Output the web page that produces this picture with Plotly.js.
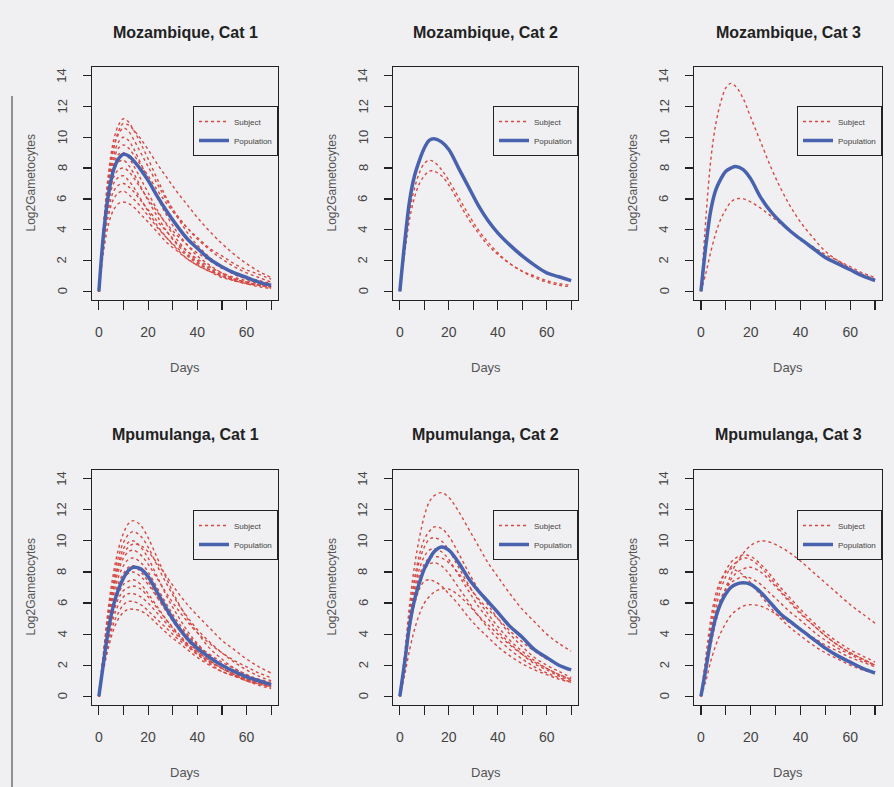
<!DOCTYPE html>
<html>
<head>
<meta charset="utf-8">
<script src="https://cdn.plot.ly/plotly-3.0.1.min.js"></script>
<style>
  html, body { margin: 0; padding: 0; background: #f0f0f2; }
  #chart { width: 894px; height: 787px; }
</style>
</head>
<body>
<div id="chart"></div>
<script>
// Sampling days shared by every curve
const days = [0, 2, 4, 6, 8, 10, 12, 14, 17, 20, 24, 28, 32, 36, 40, 45, 50, 55, 60, 65, 70];

// Panel titles
const panelTitles = [
  'Mozambique, Cat 1', 'Mozambique, Cat 2', 'Mozambique, Cat 3',
  'Mpumulanga, Cat 1', 'Mpumulanga, Cat 2', 'Mpumulanga, Cat 3'
];

// Axis labels and ticks
const xTickVals = [0, 10, 20, 30, 40, 50, 60, 70];
const xTickText = ['0', '', '20', '', '40', '', '60', ''];
const yTickVals = [0, 2, 4, 6, 8, 10, 12, 14];
const yTickText = ['0', '2', '4', '6', '8', '10', '12', '14'];
const xLabel = 'Days';
const yLabel = 'Log2Gametocytes';
const legendNames = ['Subject', 'Population'];

// Population predictions (log2 gametocytes)
const mozCat1Pop = [0, 3.9, 6.4, 7.9, 8.6, 8.9, 8.8, 8.5, 7.9, 7.2, 6.1, 5.1, 4.2, 3.4, 2.8, 2.1, 1.6, 1.2, 0.9, 0.6, 0.4];
const mozCat2Pop = [0, 3.2, 5.9, 7.5, 8.5, 9.3, 9.8, 9.9, 9.7, 9.2, 8.0, 6.8, 5.6, 4.6, 3.8, 3.0, 2.3, 1.7, 1.2, 0.95, 0.7];
const mozCat3Pop = [0, 3.0, 5.3, 6.6, 7.3, 7.8, 8.0, 8.1, 7.9, 7.3, 6.1, 5.2, 4.5, 3.9, 3.4, 2.8, 2.2, 1.8, 1.4, 1.0, 0.7];
const mpuCat1Pop = [0, 2.3, 4.4, 5.9, 6.9, 7.6, 8.1, 8.3, 8.2, 7.7, 6.6, 5.5, 4.5, 3.7, 3.1, 2.5, 2.0, 1.6, 1.25, 1.0, 0.75];
const mpuCat2Pop = [0, 2.2, 4.6, 6.2, 7.3, 8.2, 8.8, 9.3, 9.6, 9.4, 8.6, 7.6, 6.8, 6.1, 5.4, 4.5, 3.8, 3.0, 2.5, 2.0, 1.7];
const mpuCat3Pop = [0, 1.8, 3.7, 5.1, 6.0, 6.6, 7.0, 7.2, 7.3, 7.2, 6.7, 6.0, 5.3, 4.8, 4.3, 3.7, 3.1, 2.6, 2.2, 1.8, 1.5];

// Individual subject predictions
const mozCat1Subjects = [
  [0, 4.5, 7.8, 9.8, 10.8, 11.2, 11.0, 10.5, 9.6, 8.6, 7.2, 5.9, 4.8, 3.8, 3.0, 2.2, 1.6, 1.1, 0.8, 0.5, 0.3],
  [0, 4.3, 7.4, 9.3, 10.2, 10.6, 10.4, 9.9, 9.0, 8.1, 6.9, 5.8, 4.9, 4.1, 3.4, 2.7, 2.1, 1.6, 1.2, 0.9, 0.6],
  [0, 4.1, 7.0, 8.8, 9.7, 10.0, 9.8, 9.3, 8.3, 7.3, 6.0, 4.8, 3.8, 3.0, 2.3, 1.7, 1.2, 0.8, 0.6, 0.4, 0.3],
  [0, 4.0, 6.8, 8.5, 9.3, 9.5, 9.3, 8.9, 8.2, 7.5, 6.5, 5.6, 4.8, 4.1, 3.5, 2.8, 2.3, 1.8, 1.4, 1.1, 0.8],
  [0, 3.9, 6.6, 8.2, 8.9, 9.0, 8.7, 8.2, 7.3, 6.4, 5.2, 4.2, 3.3, 2.6, 2.0, 1.5, 1.1, 0.8, 0.6, 0.4, 0.3],
  [0, 3.8, 6.3, 7.8, 8.4, 8.5, 8.2, 7.7, 6.8, 5.9, 4.8, 3.8, 3.0, 2.4, 1.9, 1.4, 1.0, 0.7, 0.5, 0.4, 0.2],
  [0, 3.7, 6.1, 7.4, 7.9, 8.0, 7.8, 7.4, 6.7, 6.0, 5.1, 4.3, 3.6, 3.0, 2.5, 2.0, 1.5, 1.2, 0.9, 0.7, 0.5],
  [0, 3.5, 5.8, 7.0, 7.4, 7.5, 7.2, 6.8, 6.0, 5.2, 4.2, 3.4, 2.7, 2.1, 1.7, 1.3, 0.9, 0.7, 0.5, 0.3, 0.2],
  [0, 3.3, 5.4, 6.5, 6.9, 7.0, 6.8, 6.5, 5.9, 5.3, 4.5, 3.8, 3.1, 2.6, 2.1, 1.6, 1.2, 0.9, 0.7, 0.5, 0.4],
  [0, 3.1, 5.0, 6.0, 6.4, 6.5, 6.3, 6.0, 5.5, 4.9, 4.1, 3.4, 2.8, 2.3, 1.8, 1.4, 1.0, 0.8, 0.6, 0.4, 0.3],
  [0, 2.7, 4.4, 5.3, 5.7, 5.8, 5.7, 5.5, 5.0, 4.5, 3.8, 3.1, 2.6, 2.1, 1.7, 1.3, 1.0, 0.7, 0.5, 0.4, 0.3],
  [0, 4.2, 7.3, 9.3, 10.4, 10.9, 10.8, 10.5, 9.9, 9.2, 8.2, 7.3, 6.4, 5.6, 4.8, 3.9, 3.1, 2.4, 1.8, 1.3, 0.9]
];
const mozCat2Subjects = [
  [0, 2.8, 5.2, 6.7, 7.7, 8.3, 8.5, 8.4, 7.9, 7.2, 6.1, 5.0, 4.0, 3.2, 2.5, 1.8, 1.3, 0.9, 0.6, 0.4, 0.3],
  [0, 2.5, 4.7, 6.1, 7.0, 7.5, 7.8, 7.8, 7.5, 6.9, 5.8, 4.7, 3.8, 3.0, 2.4, 1.8, 1.3, 1.0, 0.7, 0.5, 0.4]
];
const mozCat3Subjects = [
  [0, 4.8, 8.6, 10.9, 12.3, 13.2, 13.5, 13.3, 12.5, 11.3, 9.7, 8.1, 6.7, 5.5, 4.5, 3.5, 2.6, 2.0, 1.5, 1.1, 0.8],
  [0, 1.2, 2.6, 3.8, 4.7, 5.3, 5.8, 6.0, 6.0, 5.8, 5.4, 4.9, 4.4, 3.9, 3.4, 2.9, 2.4, 2.0, 1.6, 1.2, 0.9]
];
const mpuCat1Subjects = [
  [0, 3.0, 5.9, 8.0, 9.5, 10.5, 11.1, 11.3, 11.0, 10.2, 8.8, 7.4, 6.1, 5.0, 4.1, 3.1, 2.4, 1.8, 1.4, 1.0, 0.8],
  [0, 2.9, 5.6, 7.6, 9.0, 9.9, 10.4, 10.6, 10.3, 9.6, 8.3, 7.1, 6.0, 5.1, 4.3, 3.5, 2.8, 2.2, 1.7, 1.3, 1.0],
  [0, 2.8, 5.4, 7.3, 8.6, 9.5, 9.9, 10.0, 9.6, 8.9, 7.6, 6.3, 5.2, 4.2, 3.4, 2.6, 2.0, 1.5, 1.1, 0.8, 0.6],
  [0, 2.7, 5.1, 6.9, 8.1, 8.9, 9.3, 9.4, 9.1, 8.5, 7.5, 6.5, 5.6, 4.8, 4.1, 3.4, 2.8, 2.3, 1.9, 1.5, 1.2],
  [0, 2.6, 4.9, 6.6, 7.7, 8.4, 8.8, 8.9, 8.6, 8.0, 6.9, 5.8, 4.8, 4.0, 3.3, 2.6, 2.0, 1.6, 1.2, 0.9, 0.7],
  [0, 2.5, 4.6, 6.2, 7.3, 7.9, 8.3, 8.4, 8.0, 7.4, 6.3, 5.3, 4.4, 3.6, 2.9, 2.3, 1.8, 1.4, 1.0, 0.8, 0.6],
  [0, 2.4, 4.5, 6.0, 7.0, 7.6, 7.9, 8.0, 7.7, 7.2, 6.3, 5.4, 4.6, 3.9, 3.3, 2.7, 2.2, 1.8, 1.4, 1.1, 0.9],
  [0, 2.3, 4.3, 5.7, 6.6, 7.2, 7.4, 7.5, 7.2, 6.6, 5.7, 4.8, 4.0, 3.3, 2.7, 2.1, 1.6, 1.3, 1.0, 0.7, 0.5],
  [0, 2.2, 4.1, 5.4, 6.3, 6.8, 7.0, 7.1, 6.9, 6.4, 5.6, 4.8, 4.1, 3.4, 2.9, 2.3, 1.8, 1.4, 1.1, 0.9, 0.7],
  [0, 2.1, 3.8, 5.1, 5.9, 6.4, 6.6, 6.6, 6.4, 6.0, 5.3, 4.6, 3.9, 3.3, 2.8, 2.2, 1.8, 1.4, 1.1, 0.9, 0.7],
  [0, 1.9, 3.5, 4.7, 5.4, 5.9, 6.1, 6.1, 5.9, 5.5, 4.9, 4.3, 3.7, 3.2, 2.7, 2.2, 1.8, 1.4, 1.1, 0.9, 0.7],
  [0, 1.8, 3.2, 4.3, 5.0, 5.4, 5.6, 5.6, 5.5, 5.2, 4.6, 4.0, 3.5, 3.0, 2.5, 2.0, 1.6, 1.3, 1.0, 0.8, 0.6],
  [0, 2.8, 5.3, 7.1, 8.4, 9.2, 9.6, 9.8, 9.7, 9.3, 8.5, 7.6, 6.7, 5.9, 5.2, 4.4, 3.6, 3.0, 2.4, 1.9, 1.5]
];
const mpuCat2Subjects = [
  [0, 2.8, 5.9, 8.4, 10.2, 11.6, 12.5, 12.9, 13.1, 12.8, 11.9, 10.8, 9.7, 8.6, 7.7, 6.6, 5.6, 4.8, 4.0, 3.4, 2.9],
  [0, 2.6, 5.4, 7.6, 9.1, 10.1, 10.6, 10.9, 10.8, 10.3, 9.2, 8.0, 6.9, 5.9, 5.0, 4.0, 3.2, 2.5, 2.0, 1.6, 1.2],
  [0, 2.5, 5.2, 7.3, 8.7, 9.6, 10.1, 10.2, 10.0, 9.4, 8.3, 7.2, 6.2, 5.3, 4.5, 3.6, 2.9, 2.3, 1.8, 1.4, 1.1],
  [0, 2.4, 5.0, 6.9, 8.2, 9.0, 9.4, 9.5, 9.3, 8.8, 7.8, 6.8, 5.8, 5.0, 4.2, 3.4, 2.7, 2.1, 1.7, 1.3, 1.0],
  [0, 2.3, 4.8, 6.6, 7.8, 8.5, 8.9, 9.0, 8.9, 8.6, 7.9, 7.1, 6.3, 5.6, 5.0, 4.2, 3.5, 2.9, 2.4, 2.0, 1.6],
  [0, 2.2, 4.6, 6.3, 7.5, 8.2, 8.5, 8.6, 8.4, 7.9, 7.0, 6.1, 5.2, 4.4, 3.7, 3.0, 2.4, 1.9, 1.5, 1.2, 0.9],
  [0, 2.0, 4.3, 5.9, 6.9, 7.4, 7.5, 7.4, 7.1, 6.6, 5.9, 5.1, 4.4, 3.8, 3.2, 2.6, 2.1, 1.7, 1.4, 1.1, 0.9],
  [0, 1.4, 3.0, 4.3, 5.3, 6.0, 6.4, 6.7, 6.9, 6.9, 6.5, 5.9, 5.2, 4.6, 4.0, 3.3, 2.7, 2.2, 1.8, 1.4, 1.1]
];
const mpuCat3Subjects = [
  [0, 1.5, 3.3, 4.8, 6.0, 7.0, 7.8, 8.5, 9.2, 9.7, 10.0, 9.9, 9.6, 9.2, 8.7, 8.0, 7.3, 6.6, 5.9, 5.3, 4.7],
  [0, 2.2, 4.5, 6.2, 7.3, 8.1, 8.6, 8.9, 9.1, 9.0, 8.5, 7.8, 7.0, 6.3, 5.6, 4.8, 4.1, 3.5, 3.0, 2.6, 2.2],
  [0, 1.9, 4.0, 5.7, 6.9, 7.7, 8.3, 8.6, 8.9, 8.8, 8.3, 7.6, 6.8, 6.1, 5.4, 4.6, 3.9, 3.3, 2.8, 2.4, 2.0],
  [0, 2.6, 5.0, 6.6, 7.5, 8.0, 8.2, 8.1, 7.8, 7.3, 6.5, 5.7, 5.0, 4.4, 3.9, 3.3, 2.8, 2.4, 2.0, 1.7, 1.5],
  [0, 1.6, 3.5, 5.0, 6.1, 6.9, 7.5, 7.9, 8.2, 8.3, 8.0, 7.4, 6.7, 6.0, 5.3, 4.6, 3.9, 3.3, 2.8, 2.4, 2.0],
  [0, 1.8, 3.8, 5.3, 6.3, 6.9, 7.3, 7.5, 7.7, 7.6, 7.2, 6.6, 6.0, 5.4, 4.9, 4.2, 3.6, 3.1, 2.7, 2.3, 2.0],
  [0, 1.0, 2.3, 3.3, 4.1, 4.7, 5.2, 5.5, 5.8, 5.9, 5.8, 5.5, 5.1, 4.7, 4.3, 3.8, 3.3, 2.9, 2.5, 2.2, 1.9]
];

const panelPop = [mozCat1Pop, mozCat2Pop, mozCat3Pop, mpuCat1Pop, mpuCat2Pop, mpuCat3Pop];
const panelSubjects = [mozCat1Subjects, mozCat2Subjects, mozCat3Subjects, mpuCat1Subjects, mpuCat2Subjects, mpuCat3Subjects];

// ---- page geometry (pixels) ----
const W = 894, H = 787;
const colBox = [[92, 278], [393, 578], [694, 882]];
const rowBox = [[67, 300], [470, 705]];
const titleY = [33, 434];
const daysY = [367, 772];
const legendTop = [106, 510];

const px = x => x / W;
const py = y => 1 - y / H;

const BG = '#f0f0f2';
const RED = '#d64a44';
const BLUE = '#4862ad';
const FONT = 'Liberation Sans, Arial, Helvetica, sans-serif';

const traces = [];
const layout = {
  width: W, height: H,
  margin: {l: 0, r: 0, t: 0, b: 0},
  paper_bgcolor: BG,
  plot_bgcolor: BG,
  font: {family: FONT, color: '#333'},
  showlegend: true,
  annotations: [],
  shapes: [
    // page rule down the left edge
    {type: 'line', xref: 'paper', yref: 'paper', x0: px(12), x1: px(12), y0: py(96), y1: py(787),
     line: {color: '#333', width: 1}}
  ]
};

for (let p = 0; p < 6; p++) {
  const r = Math.floor(p / 3), c = p % 3;
  const n = p + 1;
  const xa = n === 1 ? 'x' : 'x' + n;
  const ya = n === 1 ? 'y' : 'y' + n;
  const lg = n === 1 ? 'legend' : 'legend' + n;
  const [x0, x1] = colBox[c];
  const [y0, y1] = rowBox[r];

  layout['xaxis' + (n === 1 ? '' : n)] = {
    domain: [px(x0), px(x1)],
    anchor: ya,
    range: [-2.8, 72.8],
    tickmode: 'array', tickvals: xTickVals, ticktext: xTickText,
    ticks: 'outside', ticklen: 9, tickwidth: 1.2, tickcolor: '#222',
    ticklabelstandoff: 10,
    tickfont: {size: 14, color: '#444', family: FONT},
    showline: true, mirror: true, linecolor: '#222', linewidth: 1.3,
    showgrid: false, zeroline: false
  };
  // y tick labels are drawn rotated, parallel to the axis, as annotations below
  layout['yaxis' + (n === 1 ? '' : n)] = {
    domain: [py(y1), py(y0)],
    anchor: xa,
    range: [-0.56, 14.56],
    tickmode: 'array', tickvals: yTickVals,
    showticklabels: false,
    ticks: 'outside', ticklen: 8, tickwidth: 1.2, tickcolor: '#222',
    showline: true, mirror: true, linecolor: '#222', linewidth: 1.3,
    showgrid: false, zeroline: false
  };
  layout[lg] = {
    x: px(x1), xanchor: 'right',
    y: py(legendTop[r]), yanchor: 'top',
    bgcolor: BG, bordercolor: '#222', borderwidth: 1,
    font: {size: 8, color: '#444', family: FONT},
    tracegroupgap: 0, itemwidth: 30
  };

  panelSubjects[p].forEach((vals, i) => {
    traces.push({
      x: days, y: vals, xaxis: xa, yaxis: ya, legend: lg,
      type: 'scatter', mode: 'lines',
      line: {color: RED, width: 1.4, dash: 'dot', shape: 'spline', smoothing: 1},
      name: legendNames[0], showlegend: i === 0, legendrank: 1,
      hoverinfo: 'skip'
    });
  });
  traces.push({
    x: days, y: panelPop[p], xaxis: xa, yaxis: ya, legend: lg,
    type: 'scatter', mode: 'lines',
    line: {color: BLUE, width: 3.5, shape: 'spline', smoothing: 1},
    name: legendNames[1], showlegend: true, legendrank: 2,
    hoverinfo: 'skip'
  });

  yTickVals.forEach((v, k) => {
    layout.annotations.push({
      text: yTickText[k], xref: 'paper', yref: ya, textangle: -90,
      x: px(x0 - 30), y: v, xanchor: 'center', yanchor: 'middle', showarrow: false,
      font: {size: 13, color: '#444', family: FONT}
    });
  });

  const cx = (x0 + x1) / 2;
  layout.annotations.push(
    {text: '<b>' + panelTitles[p] + '</b>', xref: 'paper', yref: 'paper',
     x: px(cx), y: py(titleY[r]), xanchor: 'center', yanchor: 'middle', showarrow: false,
     font: {size: 16, color: '#222', family: FONT}},
    {text: xLabel, xref: 'paper', yref: 'paper',
     x: px(cx), y: py(daysY[r]), xanchor: 'center', yanchor: 'middle', showarrow: false,
     font: {size: 13, color: '#555', family: FONT}},
    {text: yLabel, xref: 'paper', yref: 'paper', textangle: -90,
     x: px(x0 - 62), y: py((y0 + y1) / 2), xanchor: 'center', yanchor: 'middle', showarrow: false,
     font: {size: 12, color: '#555', family: FONT}}
  );
}

Plotly.newPlot('chart', traces, layout, {staticPlot: true, displayModeBar: false});
</script>
</body>
</html>
